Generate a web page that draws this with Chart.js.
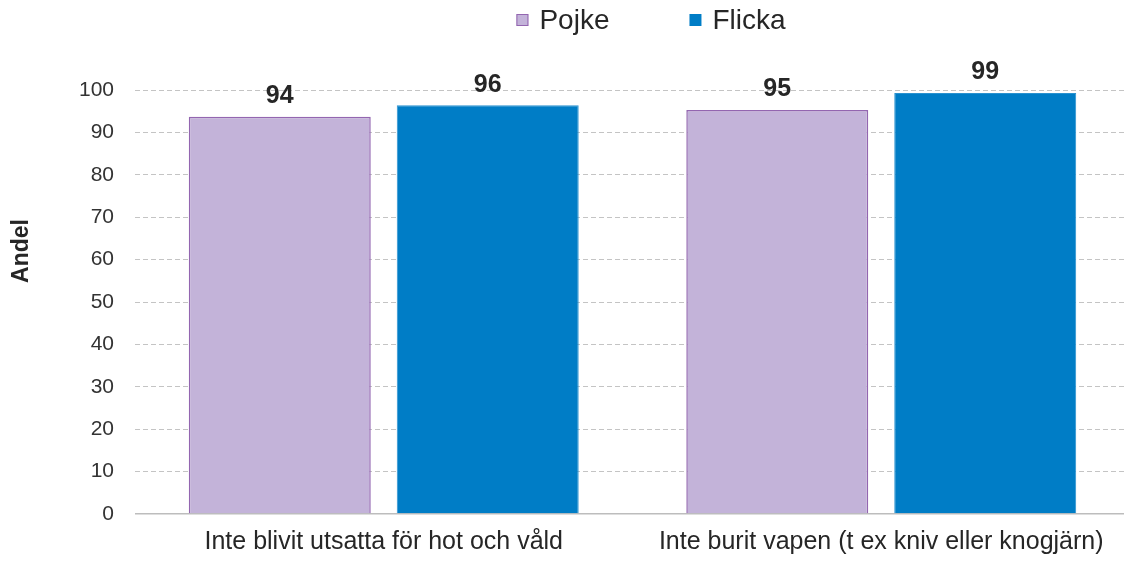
<!DOCTYPE html>
<html><head><meta charset="utf-8">
<script src="https://cdn.jsdelivr.net/npm/chart.js@4.4.0/dist/chart.umd.min.js"></script>
<style>
html,body{margin:0;padding:0;overflow:hidden;background:#fff;width:1124px;height:561px}
canvas{display:block}
</style></head>
<body>
<canvas id="c" width="1134" height="561"></canvas>
<script>
// ---- data ----
const categories = ['Inte blivit utsatta för hot och våld', 'Inte burit vapen (t ex kniv eller knogjärn)'];
const seriesNames = ['Pojke', 'Flicka'];
const pojkeValues = [93.7, 95.3];
const flickaValues = [96.4, 99.3];
const yMin = 0, yMax = 100, yStep = 10;
const axisTitle = 'Andel';

const FONT = '"Liberation Sans", Arial, Helvetica, sans-serif';
const TEXT = '#262626';

const valueLabels = {
  id: 'valueLabels',
  afterDatasetsDraw(chart) {
    const ctx = chart.ctx;
    ctx.save();
    ctx.font = 'bold 25px ' + FONT;
    ctx.fillStyle = TEXT;
    ctx.textAlign = 'center';
    ctx.textBaseline = 'alphabetic';
    chart.data.datasets.forEach((ds, i) => {
      chart.getDatasetMeta(i).data.forEach((bar, j) => {
        ctx.fillText(String(Math.round(ds.data[j])), bar.x, bar.y - 13.5);
      });
    });
    ctx.restore();
  }
};

const topLegend = {
  id: 'topLegend',
  afterDraw(chart) {
    const ctx = chart.ctx;
    ctx.save();
    ctx.font = '28px ' + FONT;
    const box = 12, gap = 11, spacing = 80, centerX = 651, boxTop = 14, baseline = 29;
    const items = chart.data.datasets.map(ds => ({ ds, w: box + gap + ctx.measureText(ds.label).width }));
    const total = items.reduce((s, it) => s + it.w, 0) + spacing * (items.length - 1);
    let x = centerX - total / 2;
    items.forEach(it => {
      ctx.fillStyle = it.ds.backgroundColor;
      ctx.fillRect(x, boxTop, box, box);
      if (it.ds.legendBorder) {
        ctx.strokeStyle = it.ds.borderColor;
        ctx.lineWidth = 1;
        ctx.strokeRect(x + 0.5, boxTop + 0.5, box - 1, box - 1);
      }
      ctx.fillStyle = TEXT;
      ctx.textAlign = 'left';
      ctx.textBaseline = 'alphabetic';
      ctx.fillText(it.ds.label, x + box + gap, baseline);
      x += it.w + spacing;
    });
    ctx.restore();
  }
};

const yTitle = {
  id: 'yTitle',
  afterDraw(chart) {
    const ctx = chart.ctx;
    ctx.save();
    ctx.translate(22, 251);
    ctx.rotate(-Math.PI / 2);
    ctx.font = 'bold 23px ' + FONT;
    ctx.fillStyle = TEXT;
    ctx.textAlign = 'center';
    ctx.textBaseline = 'middle';
    ctx.fillText(axisTitle, 0, 0);
    ctx.restore();
  }
};

new Chart(document.getElementById('c'), {
  type: 'bar',
  data: {
    labels: categories,
    datasets: [
      { label: seriesNames[0], data: pojkeValues, backgroundColor: '#C3B3D9', borderColor: '#9366B0', borderWidth: 1.5, legendBorder: true,
        categoryPercentage: 0.836, barPercentage: 0.875 },
      { label: seriesNames[1], data: flickaValues, backgroundColor: '#007DC6', borderColor: '#2A92D0', borderWidth: 1, legendBorder: false,
        categoryPercentage: 0.836, barPercentage: 0.875 }
    ]
  },
  options: {
    responsive: false,
    animation: false,
    layout: { padding: { top: 90, right: 4, bottom: 0, left: 0 } },
    plugins: { legend: { display: false }, tooltip: { enabled: false } },
    scales: {
      x: {
        grid: { display: false, drawTicks: false },
        border: { display: false },
        ticks: { color: TEXT, font: { family: FONT, size: 25 }, padding: 13, maxRotation: 0, autoSkip: false },
        afterFit(scale) { scale.height = 47; }
      },
      y: {
        min: yMin, max: yMax,
        grid: {
          drawTicks: false,
          color: ctx => ctx.tick && ctx.tick.value === 0 ? '#BDBDBD' : '#C4C4C4',
          lineWidth: ctx => ctx.tick && ctx.tick.value === 0 ? 1.5 : 1
        },
        border: { display: false, dash: ctx => ctx.tick && ctx.tick.value === 0 ? [] : [5, 3] },
        ticks: { stepSize: yStep, color: '#333333', font: { family: FONT, size: 21 }, padding: 21 },
        afterFit(scale) { scale.width = 135; }
      }
    }
  },
  plugins: [valueLabels, topLegend, yTitle]
});
</script>
</body></html>
